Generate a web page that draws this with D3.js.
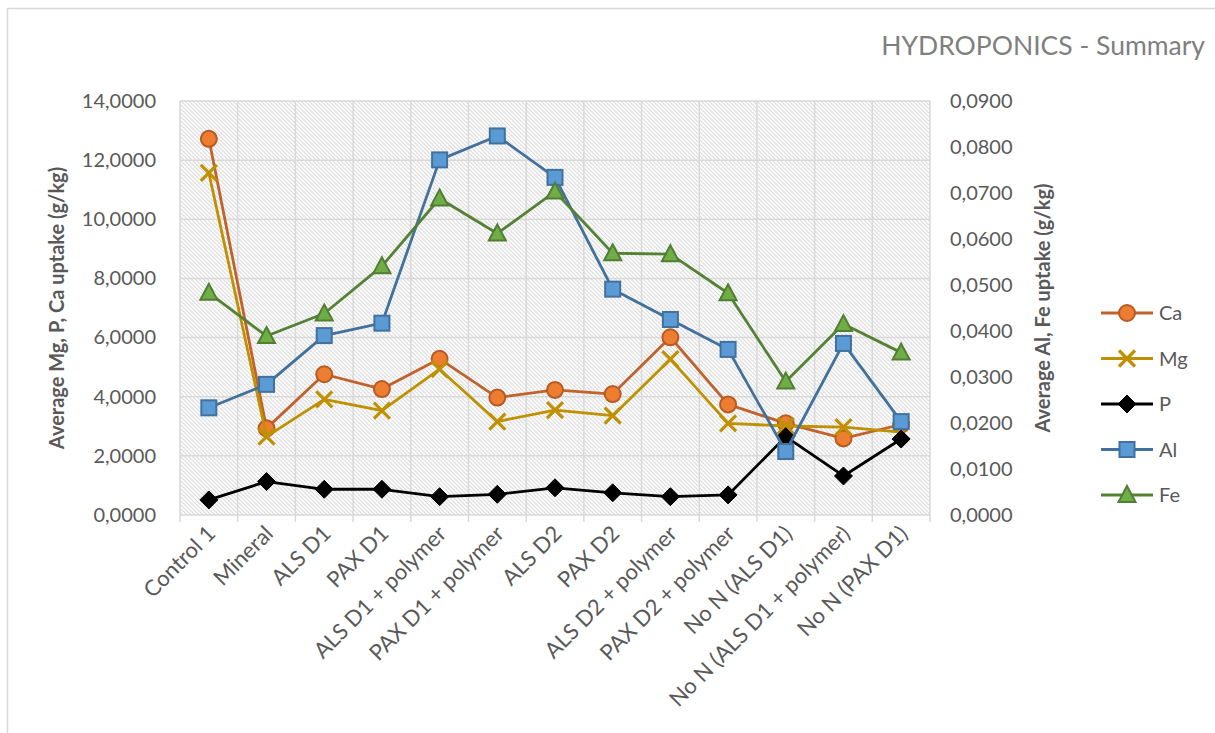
<!DOCTYPE html>
<html>
<head>
<meta charset="utf-8">
<script src="https://cdn.jsdelivr.net/npm/d3@7"></script>
<style>
  body { margin: 0; background: #fff; }
  text { font-family: Lato, "Open Sans", sans-serif; fill: #595959; }
</style>
</head>
<body>
<div id="chart"></div>
<script>
// categories and values
var categories = ["Control 1", "Mineral", "ALS D1", "PAX D1", "ALS D1 + polymer", "PAX D1 + polymer",
  "ALS D2", "PAX D2", "ALS D2 + polymer", "PAX D2 + polymer", "No N (ALS D1)",
  "No N (ALS D1 + polymer)", "No N (PAX D1)"]

// left axis (g/kg)
var ca = [12.72, 2.93, 4.76, 4.26, 5.28, 3.97, 4.23, 4.09, 6.01, 3.74, 3.10, 2.59, 3.06]
var mg = [11.57, 2.65, 3.91, 3.53, 4.93, 3.16, 3.55, 3.36, 5.27, 3.10, 3.01, 2.97, 2.80]
var p  = [0.51, 1.13, 0.87, 0.87, 0.62, 0.70, 0.92, 0.75, 0.62, 0.68, 2.65, 1.32, 2.57]

// right axis (g/kg)
var al = [0.0233, 0.0284, 0.0390, 0.0417, 0.0772, 0.0824, 0.0734, 0.0491, 0.0425, 0.0360, 0.0138, 0.0373, 0.0203]
var fe = [0.0483, 0.0389, 0.0438, 0.0541, 0.0688, 0.0612, 0.0703, 0.0569, 0.0567, 0.0482, 0.0290, 0.0415, 0.0353]

var leftTicks = [0, 2, 4, 6, 8, 10, 12, 14]
var rightTicks = [0, 0.01, 0.02, 0.03, 0.04, 0.05, 0.06, 0.07, 0.08, 0.09]

var series = [
  {name: "Ca", values: ca, axis: "L", marker: "circle", line: "#C0622B", fill: "#ED7D31", stroke: "#B85A23"},
  {name: "Mg", values: mg, axis: "L", marker: "x", line: "#BF9000", fill: "none", stroke: "#BF9000"},
  {name: "P", values: p, axis: "L", marker: "diamond", line: "#000000", fill: "#000000", stroke: "#000000"},
  {name: "Al", values: al, axis: "R", marker: "square", line: "#41719C", fill: "#5B9BD5", stroke: "#41719C"},
  {name: "Fe", values: fe, axis: "R", marker: "triangle", line: "#548235", fill: "#70AD47", stroke: "#507E32"}
]

var w = 1215, h = 733
var plotL = 180, plotR = 930, plotT = 101, plotB = 515

var svg = d3.select("#chart").append("svg")
  .attr("width", w)
  .attr("height", h)

// outer chart border
svg.append("rect")
  .attr("x", 7.5).attr("y", 8.5)
  .attr("width", w).attr("height", h)
  .attr("fill", "none").attr("stroke", "#d9d9d9").attr("stroke-width", 1.5)

// hatch pattern for plot area
var pat = svg.append("defs").append("pattern")
  .attr("id", "hatch")
  .attr("patternUnits", "userSpaceOnUse")
  .attr("width", 4).attr("height", 4)
pat.append("rect").attr("width", 4).attr("height", 4).attr("fill", "#fff")
pat.append("path")
  .attr("d", "M-1,-1 L5,5 M-1,3 L1,5 M3,-1 L5,1")
  .attr("stroke", "#dcdcdc").attr("stroke-width", 1.2)

// scales
var x = d3.scaleBand().domain(categories).range([plotL, plotR])
var yL = d3.scaleLinear().domain([0, 14]).range([plotB, plotT])
var yR = d3.scaleLinear().domain([0, 0.09]).range([plotB, plotT])

var comma = d3.formatLocale({decimal: ",", thousands: ".", grouping: [3], currency: ["", ""]})
var fmt = comma.format(".4f")

svg.append("rect")
  .attr("x", plotL).attr("y", plotT)
  .attr("width", plotR - plotL).attr("height", plotB - plotT)
  .attr("fill", "url(#hatch)")

// gridlines
var grid = svg.append("g").attr("stroke", "#d9d9d9").attr("stroke-width", 1.5)
grid.selectAll(".hg")
  .data(leftTicks)
  .join("line")
  .attr("x1", plotL).attr("x2", plotR)
  .attr("y1", function(d) { return yL(d) }).attr("y2", function(d) { return yL(d) })

var bounds = categories.map(function(c) { return x(c) }).concat([plotR])
grid.selectAll(".vg")
  .data(bounds)
  .join("line")
  .attr("x1", function(d) { return d }).attr("x2", function(d) { return d })
  .attr("y1", plotT).attr("y2", plotB + 7)

// left axis labels
var axL = svg.append("g")
  .attr("transform", "translate(" + (plotL - 24) + ",0)")
  .call(d3.axisLeft(yL).tickValues(leftTicks).tickSize(0).tickPadding(0).tickFormat(fmt))
axL.select(".domain").remove()
axL.selectAll("text").style("font-size", "20px").attr("fill", "#595959").style("font-family", "Lato")

// right axis labels
var axR = svg.append("g")
  .attr("transform", "translate(" + (plotR + 20) + ",0)")
  .call(d3.axisRight(yR).tickValues(rightTicks).tickSize(0).tickPadding(0).tickFormat(fmt))
axR.select(".domain").remove()
axR.selectAll("text").style("font-size", "20px").attr("fill", "#595959").style("font-family", "Lato")

// category labels
svg.append("g").selectAll("text")
  .data(categories)
  .join("text")
  .attr("transform", function(d) {
    return "translate(" + (x(d) + x.bandwidth() / 2 + 8) + "," + (plotB + 20) + ") rotate(-45)"
  })
  .attr("text-anchor", "end")
  .style("font-size", "22px")
  .text(function(d) { return d })

// axis titles
svg.append("text")
  .attr("transform", "translate(64," + ((plotT + plotB) / 2) + ") rotate(-90)")
  .attr("text-anchor", "middle")
  .style("font-size", "20px").style("font-weight", "bold")
  .text("Average Mg, P, Ca uptake (g/kg)")

svg.append("text")
  .attr("transform", "translate(1050," + ((plotT + plotB) / 2) + ") rotate(-90)")
  .attr("text-anchor", "middle")
  .style("font-size", "20px").style("font-weight", "bold")
  .text("Average Al, Fe uptake (g/kg)")

// title
svg.append("text")
  .attr("x", 1205).attr("y", 55)
  .attr("text-anchor", "end")
  .style("font-size", "26.5px")
  .style("fill", "#7f7f7f")
  .text("HYDROPONICS - Summary")

// marker drawing
function drawMarker(g, s) {
  if (s.marker == "circle") {
    g.append("circle").attr("r", 8)
      .attr("fill", s.fill).attr("stroke", s.stroke).attr("stroke-width", 2)
  } else if (s.marker == "square") {
    g.append("rect").attr("x", -7.5).attr("y", -7.5).attr("width", 15).attr("height", 15)
      .attr("fill", s.fill).attr("stroke", s.stroke).attr("stroke-width", 2)
  } else if (s.marker == "diamond") {
    g.append("path").attr("d", "M0,-9 L9,0 L0,9 L-9,0 Z")
      .attr("fill", s.fill).attr("stroke", s.stroke).attr("stroke-width", 1)
  } else if (s.marker == "triangle") {
    g.append("path").attr("d", "M0,-9 L8.5,7 L-8.5,7 Z")
      .attr("fill", s.fill).attr("stroke", s.stroke).attr("stroke-width", 2)
      .attr("stroke-linejoin", "miter")
  } else if (s.marker == "x") {
    g.append("path").attr("d", "M-8,-8 L8,8 M-8,8 L8,-8")
      .attr("stroke", s.stroke).attr("stroke-width", 3.2).attr("fill", "none")
  }
}

// series
series.forEach(function(s) {
  var yS = s.axis == "L" ? yL : yR
  var line = d3.line()
    .x(function(d, i) { return x(categories[i]) + x.bandwidth() / 2 })
    .y(function(d) { return yS(d) })

  var g = svg.append("g")
  g.append("path")
    .attr("d", line(s.values))
    .attr("fill", "none")
    .attr("stroke", s.line)
    .attr("stroke-width", 2.8)
    .attr("stroke-linejoin", "round")

  s.values.forEach(function(v, i) {
    var m = g.append("g")
      .attr("transform", "translate(" + (x(categories[i]) + x.bandwidth() / 2) + "," + yS(v) + ")")
    drawMarker(m, s)
  })
})

// legend
var legend = svg.append("g")
series.forEach(function(s, i) {
  var ly = 313 + i * 45.5
  var lg = legend.append("g").attr("transform", "translate(1101," + ly + ")")
  lg.append("line").attr("x1", 0).attr("x2", 52)
    .attr("stroke", s.line).attr("stroke-width", 2.8)
  var m = lg.append("g").attr("transform", "translate(26,0)")
  drawMarker(m, s)
  lg.append("text").attr("x", 58).attr("dy", "0.35em")
    .style("font-size", "20px")
    .text(s.name)
})
</script>
</body>
</html>
